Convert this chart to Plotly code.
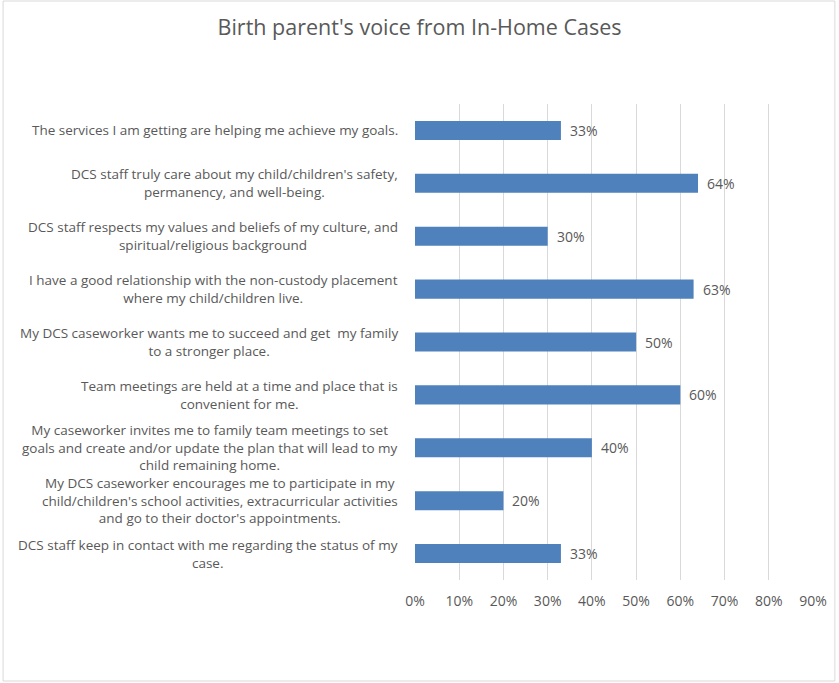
import plotly.graph_objects as go

categories = [
    "The services I am getting are helping me achieve my goals.",
    "DCS staff truly care about my child/children's safety,<br>permanency, and well-being.",
    "DCS staff respects my values and beliefs of my culture, and<br>spiritual/religious background",
    "I have a good relationship with the non-custody placement<br>where my child/children live.",
    "My DCS caseworker wants me to succeed and get  my family<br>to a stronger place.",
    "Team meetings are held at a time and place that is<br>convenient for me.",
    "My caseworker invites me to family team meetings to set<br>goals and create and/or update the plan that will lead to my<br>child remaining home.",
    "My DCS caseworker encourages me to participate in my<br>child/children's school activities, extracurricular activities<br>and go to their doctor's appointments.",
    "DCS staff keep in contact with me regarding the status of my<br>case.",
]
values = [0.33, 0.64, 0.30, 0.63, 0.50, 0.60, 0.40, 0.20, 0.33]
tick_vals = [0, 0.1, 0.2, 0.3, 0.4, 0.5, 0.6, 0.7, 0.8, 0.9]
tick_text = ["0%", "10%", "20%", "30%", "40%", "50%", "60%", "70%", "80%", "90%"]
title = "Birth parent's voice from In-Home Cases"

FONT = "Open Sans, sans-serif"
GRAY = "#595959"

fig = go.Figure()
fig.add_trace(go.Bar(
    x=values, y=list(range(len(categories))), orientation="h",
    marker=dict(color="#4F81BD", line=dict(width=0)),
    width=0.36, hoverinfo="x",
))

annotations = []
for i, (c, v) in enumerate(zip(categories, values)):
    annotations.append(dict(
        x=-0.0375, xref="paper", y=i, yref="y", text=c, showarrow=False,
        xanchor="right", yanchor="middle", align="center",
        font=dict(family=FONT, size=13.5, color=GRAY),
    ))
    annotations.append(dict(
        x=v, xref="x", y=i, yref="y", text=f"{round(v*100)}%", showarrow=False,
        xanchor="left", yanchor="middle", xshift=7,
        font=dict(family=FONT, size=14, color=GRAY),
    ))

fig.update_layout(
    width=839, height=683,
    margin=dict(l=415, r=24, t=104, b=103),
    paper_bgcolor="white", plot_bgcolor="white",
    title=dict(text=title, x=0.5, xanchor="center", y=1 - 27 / 683, yanchor="middle",
               font=dict(family=FONT, size=21.5, color=GRAY)),
    xaxis=dict(range=[0, 0.9], tickvals=tick_vals, ticktext=tick_text,
               showgrid=True, gridcolor="#D9D9D9", gridwidth=1,
               zeroline=False, showline=False, ticks="", ticklabelstandoff=11,
               tickfont=dict(family=FONT, size=14, color=GRAY)),
    yaxis=dict(range=[len(categories) - 0.5, -0.5], showticklabels=False,
               showgrid=False, zeroline=False, showline=False, ticks=""),
    annotations=annotations,
    showlegend=False,
    shapes=[dict(type="rect", xref="paper", yref="paper",
                 x0=(1 - 415) / 400, x1=(837 - 415) / 400,
                 y0=(580 - 681) / 476, y1=(580 - 1) / 476,
                 line=dict(color="#D9D9D9", width=1), layer="below")],
)

fig.write_html("out.html", config={"displayModeBar": False},
               post_script="document.body.style.margin='0';")
